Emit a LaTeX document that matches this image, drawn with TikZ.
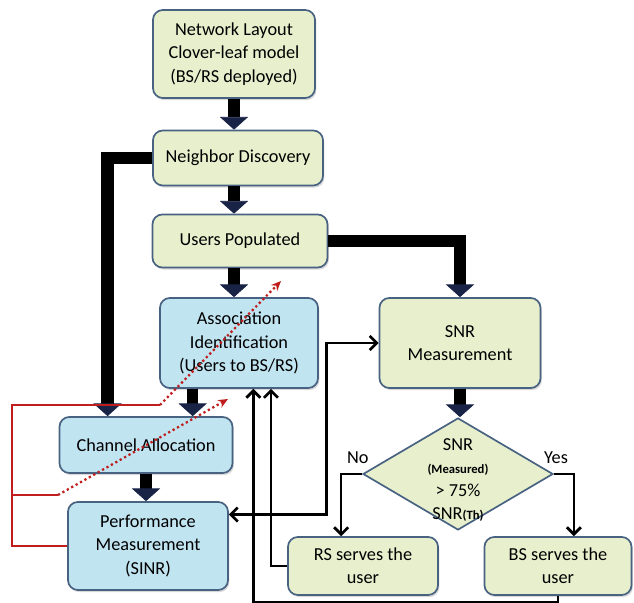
\documentclass[tikz,border=0pt]{standalone}
\usepackage{fontspec}
\setmainfont{Carlito}
\usetikzlibrary{shapes.geometric, arrows.meta, positioning, calc, shadows}

\definecolor{leafgreen}{RGB}{232,239,205}
\definecolor{skyblue}{RGB}{193,228,241}
\definecolor{edgeblue}{RGB}{72,98,130}
\definecolor{headnavy}{RGB}{25,35,70}
\definecolor{loopred}{RGB}{192,30,30}
\newcommand{\subbold}[1]{{\fontsize{9}{10}\selectfont\bfseries #1}}

\begin{document}
\begin{tikzpicture}[
    x=0.025cm, y=-0.025cm,
    font=\fontsize{13}{16.5}\selectfont,
    box/.style={rectangle, draw=edgeblue, line width=1.2pt, rounded corners=7pt, align=center, inner sep=0pt, drop shadow={shadow xshift=1pt, shadow yshift=-1.5pt, opacity=0.3}},
    gbox/.style={box, fill=leafgreen},
    bbox/.style={box, fill=skyblue},
    bigarrow/.style={line width=8pt, -{Triangle[width=20pt, length=9pt, line width=0.5pt, fill=headnavy, color=headnavy]}},
    thinarrow/.style={line width=1.9pt, >={Straight Barb[length=5pt, width=10pt]}, ->},
    redline/.style={draw=loopred, line width=1.3pt},
    reddot/.style={draw=loopred, line width=1.6pt, dotted, -{Stealth[length=7pt, width=6pt]}}
  ]
    \useasboundingbox (0,0) rectangle (634,603);

    % Set-up chain
    \node[gbox, minimum width=4.05cm, minimum height=2.2cm] (layout) at (234,54) {Network Layout\\Clover-leaf model\\(BS/RS deployed)};
    \node[gbox, minimum width=4.25cm, minimum height=1.375cm] (neighbor) at (238,158) {Neighbor Discovery};
    \node[gbox, minimum width=4.375cm, minimum height=1.325cm] (users) at (240,241) {Users Populated};

    % Association and resources
    \node[bbox, minimum width=3.95cm, minimum height=2.25cm] (assoc) at (239,343) {Association\\Identification\\(Users to BS/RS)};
    \node[bbox, minimum width=4.325cm, minimum height=1.4cm] (chan) at (146,445) {Channel Allocation};
    \node[bbox, minimum width=4.0cm, minimum height=2.2cm] (perf) at (148,546) {Performance\\Measurement\\(SINR)};

    % SNR decision
    \node[gbox, minimum width=4.025cm, minimum height=2.25cm] (snrm) at (460,343) {SNR\\Measurement};
    \node[diamond, draw=edgeblue, fill=leafgreen, line width=1.2pt, inner sep=0pt, minimum width=4.75cm, minimum height=2.8cm] (dia) at (458,474) {};
    \node[align=center] (diatext) at (458,480) {SNR\\\subbold{(Measured)}\\> 75\%\\SNR\subbold{(Th)}};
    \node[gbox, minimum width=3.75cm, minimum height=1.45cm] (rs) at (363,566) {RS serves the\\user};
    \node[gbox, minimum width=3.675cm, minimum height=1.45cm] (bs) at (558,566) {BS serves the\\user};

    % Thick arrows
    \draw[bigarrow] (layout.south) -- (layout.south |- neighbor.north);
    \draw[bigarrow] (neighbor.south -| layout.south) -- (layout.south |- users.north);
    \draw[bigarrow] (users.south -| layout.south) -- (layout.south |- assoc.north);
    \draw[bigarrow, line width=9pt] (users.east) -| (snrm.north);
    \draw[bigarrow] (snrm.south) -- (snrm.south |- dia.north);
    \draw[bigarrow, line width=9pt] (neighbor.west) -| ($(chan.north west)!0.28!(chan.north east)$);
    \draw[bigarrow] ($(assoc.south west)!0.21!(assoc.south east)$) coordinate (ac) -- (ac |- chan.north);
    \draw[bigarrow] (chan.south) -- (chan.south |- perf.north);

    % Decision branches
    \draw[thinarrow] (dia.west) -- ++(-21,0) coordinate (nobend) -- (nobend |- rs.north);
    \node[anchor=south west, inner sep=4pt, yshift=3pt] (nolbl) at (nobend) {No};
    \draw[thinarrow] (dia.east) -- ++(20,0) coordinate (yesbend) -- (yesbend |- bs.north);
    \node[anchor=south east, inner sep=4pt, yshift=3pt] (yeslbl) at (yesbend) {Yes};

    % Feedback lines
    \draw[thinarrow, <->] ($(perf.north east)!0.15!(perf.south east)$) -| ($(snrm.west)+(-52,0)$) -- (snrm.west);
    \draw[thinarrow] (rs.west) -| ($(assoc.south west)!0.70!(assoc.south east)$);
    \draw[thinarrow] (bs.south) -- ++(0,6) -| ($(assoc.south west)!0.59!(assoc.south east)$);

    % Red loop
    \coordinate (redtop) at (160,405);
    \coordinate (redmid) at (58,495);
    \coordinate (redcorner) at (12,405);
    \coordinate (redtip1) at (281,281);
    \coordinate (redtip2) at (228,399);
    \draw[redline] (perf.west) -| (redcorner) -- (redtop);
    \draw[redline] (redcorner |- redmid) -- (redmid);
    \draw[reddot] (redtop) -- (redtip1);
    \draw[reddot] (redmid) -- (redtip2);
  \end{tikzpicture}
\end{document}
